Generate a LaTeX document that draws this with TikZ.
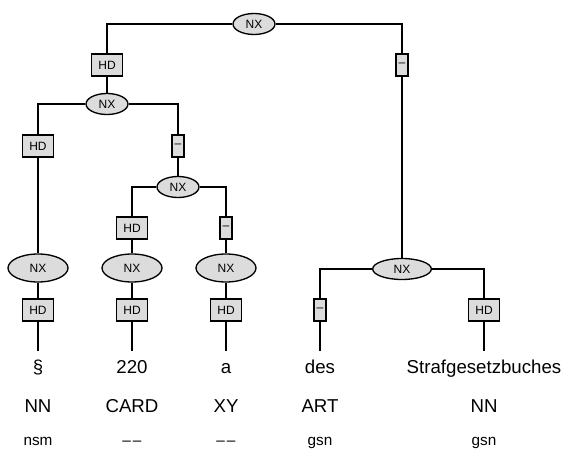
\documentclass[tikz,border=0pt]{standalone}
\usepackage{fontspec}
\setmainfont{Liberation Sans}
\usetikzlibrary{shapes.geometric}

\begin{document}
\begin{tikzpicture}[x=0.75pt,y=0.75pt,yscale=-1,xscale=1,line width=1pt,
	nx/.style={ellipse,draw,fill={rgb, 255:red, 220; green, 220; blue, 220 },inner sep=0pt,minimum width=31.5pt,minimum height=15.75pt,font=\fontsize{9}{10}\selectfont},
	nxbig/.style={nx,minimum width=45pt,minimum height=21pt},
	nxwide/.style={nx,minimum width=44pt},
	hd/.style={rectangle,draw,fill={rgb, 255:red, 220; green, 220; blue, 220 },inner sep=1pt,minimum width=23pt,minimum height=16.5pt,font=\fontsize{9}{10}\selectfont},
	nolabel/.style={hd,minimum width=9pt},
	word/.style={anchor=base,inner sep=5pt,text height=11pt,font=\fontsize{14}{16}\selectfont},
	tag/.style={anchor=base,inner sep=0pt,font=\fontsize{14}{16}\selectfont},
	morph/.style={anchor=base,inner sep=0pt,font=\fontsize{11.5}{13}\selectfont}]
		\useasboundingbox (0,0) rectangle (566,452);
		
		%Shape: Ellipse 
		\draw (254,24) node [nx] (nxA) {NX};
		%Shape: Ellipse 
		\draw (107,104) node [nx] (nxB) {NX};
		%Shape: Ellipse 
		\draw (178,187) node [nx] (nxC) {NX};
		%Shape: Ellipse 
		\draw (38,268) node [nxbig] (nxD1) {NX};
		%Shape: Ellipse 
		\draw (132,268) node [nxbig] (nxD2) {NX};
		%Shape: Ellipse 
		\draw (226,268) node [nxbig] (nxD3) {NX};
		%Shape: Ellipse 
		\draw (402,269) node [nxwide] (nxE) {NX};
		
		%Shape: Rectangle 
		\draw (107,65) node [hd] (hdA) {HD};
		%Shape: Rectangle 
		\draw (402,65) node [nolabel] (dA) {–};
		%Shape: Rectangle 
		\draw (38,146) node [hd] (hdB) {HD};
		%Shape: Rectangle 
		\draw (178,146) node [nolabel] (dB) {–};
		%Shape: Rectangle 
		\draw (132,228) node [hd] (hdC) {HD};
		%Shape: Rectangle 
		\draw (226,228) node [nolabel] (dC) {–};
		%Shape: Rectangle 
		\draw (38,310) node [hd] (hdD1) {HD};
		%Shape: Rectangle 
		\draw (132,310) node [hd] (hdD2) {HD};
		%Shape: Rectangle 
		\draw (226,310) node [hd] (hdD3) {HD};
		%Shape: Rectangle 
		\draw (320,310) node [nolabel] (dE) {–};
		%Shape: Rectangle 
		\draw (484,310) node [hd] (hdE) {HD};
		
		% Text Node
		\draw (38,373) node [word] (wA) {§};
		% Text Node
		\draw (132,373) node [word] (wB) {220};
		% Text Node
		\draw (226,373) node [word] (wC) {a};
		% Text Node
		\draw (320,373) node [word] (wD) {des};
		% Text Node
		\draw (484,373) node [word] (wE) {Strafgesetzbuches};
		% Text Node
		\draw (38,412) node [tag] (tA) {NN};
		% Text Node
		\draw (132,412) node [tag] (tB) {CARD};
		% Text Node
		\draw (226,412) node [tag] (tC) {XY};
		% Text Node
		\draw (320,412) node [tag] (tD) {ART};
		% Text Node
		\draw (484,412) node [tag] (tE) {NN};
		% Text Node
		\draw (38,445) node [morph] (mA) {nsm};
		% Text Node
		\draw (132,445) node [morph] (mB) {–\kern1.5pt–};
		% Text Node
		\draw (226,445) node [morph] (mC) {–\kern1.5pt–};
		% Text Node
		\draw (320,445) node [morph] (mD) {gsn};
		% Text Node
		\draw (484,445) node [morph] (mE) {gsn};
		
		%Straight Lines 
		\draw (nxA.west) -| (hdA.north) ;
		\draw (hdA) -- (nxB) ;
		\draw (nxA.east) -| (dA.north) ;
		\draw (dA) -- (nxE) ;
		%Straight Lines 
		\draw (nxB.west) -| (hdB.north) ;
		\draw (hdB) -- (nxD1) ;
		\draw (nxB.east) -| (dB.north) ;
		\draw (dB) -- (nxC) ;
		%Straight Lines 
		\draw (nxC.west) -| (hdC.north) ;
		\draw (hdC) -- (nxD2) ;
		\draw (nxC.east) -| (dC.north) ;
		\draw (dC) -- (nxD3) ;
		%Straight Lines 
		\draw (nxD1) -- (hdD1) ;
		\draw (hdD1) -- (wA.north) ;
		\draw (nxD2) -- (hdD2) ;
		\draw (hdD2) -- (wB.north) ;
		\draw (nxD3) -- (hdD3) ;
		\draw (hdD3) -- (wC.north) ;
		%Straight Lines 
		\draw (nxE.west) -| (dE.north) ;
		\draw (dE) -- (wD.north) ;
		\draw (nxE.east) -| (hdE.north) ;
		\draw (hdE) -- (wE.north) ;
		
\end{tikzpicture}
\end{document}
